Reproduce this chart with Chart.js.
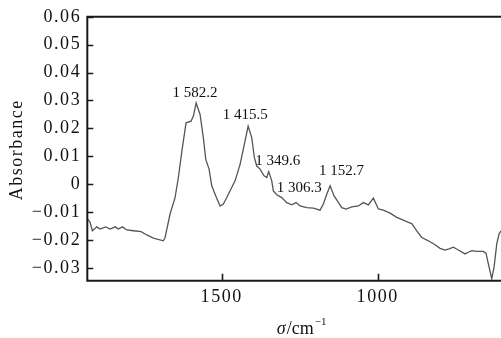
<!DOCTYPE html>
<html><head><meta charset="utf-8">
<script src="https://cdn.jsdelivr.net/npm/chart.js@4"></script>
<style>html,body{margin:0;padding:0;background:#fff}#wrap{width:501px;height:338px;position:relative}</style>
</head><body><div id="wrap"><canvas id="c"></canvas></div>
<script>
const wavenumbers = [1929.5,1922.1,1914.7,1900.6,1890.0,1871.8,1858.0,1842.0,1831.4,1818.6,1804.5,1783.3,1758.6,1740.4,1719.2,1687.2,1681.7,1665.7,1649.7,1639.1,1626.3,1614.4,1598.4,1591.0,1582.2,1569.5,1559.0,1551.3,1540.7,1532.1,1519.2,1505.4,1494.9,1484.0,1457.4,1441.3,1425.3,1415.5,1403.8,1395.5,1387.8,1377.2,1364.4,1355.8,1349.6,1339.8,1334.6,1323.7,1307.7,1291.7,1275.6,1261.9,1249.0,1227.6,1206.4,1185.0,1174.4,1163.5,1152.7,1140.1,1129.5,1115.4,1101.6,1083.3,1062.2,1046.2,1030.1,1014.1,998.1,982.1,960.6,939.1,917.9,901.9,891.0,875.0,859.0,837.8,816.4,800.4,784.4,771.5,757.7,741.7,720.2,709.7,698.7,682.7,661.6,652.9,645.5,634.7,627.3,618.6,611.3,605.0];
const absorbance = [-0.0125,-0.0137,-0.0167,-0.0153,-0.0161,-0.0153,-0.0161,-0.0153,-0.0161,-0.0153,-0.0164,-0.0167,-0.0170,-0.0182,-0.0193,-0.0203,-0.0191,-0.0107,-0.0048,0.0024,0.0131,0.0220,0.0226,0.0244,0.0291,0.0250,0.0166,0.0089,0.0054,-0.0006,-0.0042,-0.0078,-0.0071,-0.0048,0.0012,0.0071,0.0155,0.0208,0.0166,0.0095,0.0065,0.0054,0.0030,0.0024,0.0045,0.0012,-0.0024,-0.0038,-0.0048,-0.0066,-0.0074,-0.0066,-0.0078,-0.0084,-0.0086,-0.0093,-0.0071,-0.0036,-0.0006,-0.0042,-0.0060,-0.0084,-0.0089,-0.0081,-0.0078,-0.0066,-0.0074,-0.0050,-0.0089,-0.0093,-0.0104,-0.0119,-0.0129,-0.0137,-0.0141,-0.0167,-0.0191,-0.0203,-0.0217,-0.0230,-0.0236,-0.0232,-0.0226,-0.0236,-0.0250,-0.0244,-0.0238,-0.0241,-0.0241,-0.0248,-0.0286,-0.0339,-0.0298,-0.0214,-0.0179,-0.0167];
const xTickValues = [1500, 1000];
const xTickLabels = ['1500', '1000'];
const yTickValues = [-0.03, -0.02, -0.01, 0, 0.01, 0.02, 0.03, 0.04, 0.05, 0.06];
const yTickLabels = ['\u22120.03', '\u22120.02', '\u22120.01', '0', '0.01', '0.02', '0.03', '0.04', '0.05', '0.06'];
const peakWavenumbers = [1582.2, 1415.5, 1349.6, 1306.3, 1152.7];
const peakLabels = ['1 582.2', '1 415.5', '1 349.6', '1 306.3', '1 152.7'];
const yAxisTitle = 'Absorbance';

const SERIF = '"Liberation Serif", "Times New Roman", serif';
// pixel offsets of each peak label from its peak (styling only)
const labelOffsets = [[-1, -10], [-3, -11], [9, -11], [17, -10], [11.5, -15]];

function valueAt(w) {
  let best = 0;
  for (let i = 0; i < wavenumbers.length; i++) {
    if (Math.abs(wavenumbers[i] - w) < Math.abs(wavenumbers[best] - w)) best = i;
  }
  return absorbance[best];
}

const decor = {
  id: 'decor',
  beforeDraw(chart) { chart.ctx.letterSpacing = '1.6px'; },
  afterDraw(chart) {
    const { ctx, chartArea: a, scales: { x, y } } = chart;
    ctx.save();
    ctx.letterSpacing = '0px';
    ctx.strokeStyle = '#1a1a1a';
    ctx.lineWidth = 2;
    ctx.beginPath();
    ctx.moveTo(a.right + 2, a.top);
    ctx.lineTo(a.left, a.top);
    ctx.lineTo(a.left, a.bottom);
    ctx.lineTo(a.right + 2, a.bottom);
    ctx.stroke();
    ctx.lineWidth = 1.6;
    ctx.beginPath();
    y.ticks.forEach(t => {
      const py = Math.round(y.getPixelForValue(t.value)) + 0.5;
      ctx.moveTo(a.left, py); ctx.lineTo(a.left + 6, py);
    });
    x.ticks.forEach(t => {
      const px = Math.round(x.getPixelForValue(t.value)) + 0.5;
      ctx.moveTo(px, a.bottom); ctx.lineTo(px, a.bottom - 7);
    });
    ctx.stroke();

    // peak labels
    ctx.fillStyle = '#111';
    ctx.font = '15px ' + SERIF;
    ctx.textAlign = 'center';
    ctx.textBaseline = 'middle';
    peakWavenumbers.forEach((w, i) => {
      const px = x.getPixelForValue(w) + labelOffsets[i][0];
      const py = y.getPixelForValue(valueAt(w)) + labelOffsets[i][1];
      ctx.fillText(peakLabels[i], px, py);
    });

    // y axis title
    ctx.save();
    ctx.letterSpacing = '1.5px';
    ctx.font = '18px ' + SERIF;
    ctx.translate(17, (a.top + a.bottom) / 2 + 1);
    ctx.rotate(-Math.PI / 2);
    ctx.fillText(yAxisTitle, 0, 0);
    ctx.restore();

    // x axis title: σ/cm^-1
    ctx.textAlign = 'left';
    ctx.textBaseline = 'alphabetic';
    const fIt = 'italic 18px ' + SERIF, fN = '18px ' + SERIF, fS = '11px ' + SERIF;
    const parts = [['\u03c3', fIt, 0], ['/cm', fN, 0], ['\u22121', fS, -9]];
    let total = 0;
    parts.forEach(p => { ctx.font = p[1]; total += ctx.measureText(p[0]).width + 1; });
    let cx = (a.left + a.right) / 2 + 8 - total / 2;
    const base = 334;
    parts.forEach(p => {
      ctx.font = p[1];
      ctx.fillText(p[0], cx, base + p[2]);
      cx += ctx.measureText(p[0]).width + 1;
    });
    ctx.restore();
  }
};

new Chart(document.getElementById('c'), {
  type: 'scatter',
  data: {
    datasets: [{
      data: wavenumbers.map((w, i) => ({ x: w, y: absorbance[i] })),
      showLine: true,
      borderColor: '#555',
      borderWidth: 1.3,
      pointRadius: 0,
      tension: 0,
      clip: true
    }]
  },
  options: {
    responsive: true,
    maintainAspectRatio: false,
    animation: false,
    layout: { padding: { top: 16, right: 0, left: 0, bottom: 0 } },
    plugins: { legend: { display: false }, tooltip: { enabled: false }, title: { display: false } },
    scales: {
      x: {
        type: 'linear',
        reverse: true,
        min: 605,
        max: 1931,
        afterBuildTicks: s => { s.ticks = xTickValues.map(v => ({ value: v })); },
        afterFit: s => { s.height = 57.3; },
        grid: { display: false, drawTicks: false },
        border: { display: false },
        ticks: {
          color: '#111',
          font: { family: SERIF, size: 18 },
          padding: 6,
          maxRotation: 0,
          callback: v => xTickLabels[xTickValues.indexOf(v)]
        }
      },
      y: {
        type: 'linear',
        min: -0.0346,
        max: 0.06,
        afterBuildTicks: s => { s.ticks = yTickValues.map(v => ({ value: v })); },
        afterFit: s => { s.width = 87.3; },
        grid: { display: false, drawTicks: false },
        border: { display: false },
        ticks: {
          color: '#111',
          font: { family: SERIF, size: 18 },
          padding: 6,
          callback: v => {
            const i = yTickValues.findIndex(t => Math.abs(t - v) < 1e-9);
            return i >= 0 ? yTickLabels[i] : '';
          }
        }
      }
    }
  },
  plugins: [decor]
});
</script></body></html>
